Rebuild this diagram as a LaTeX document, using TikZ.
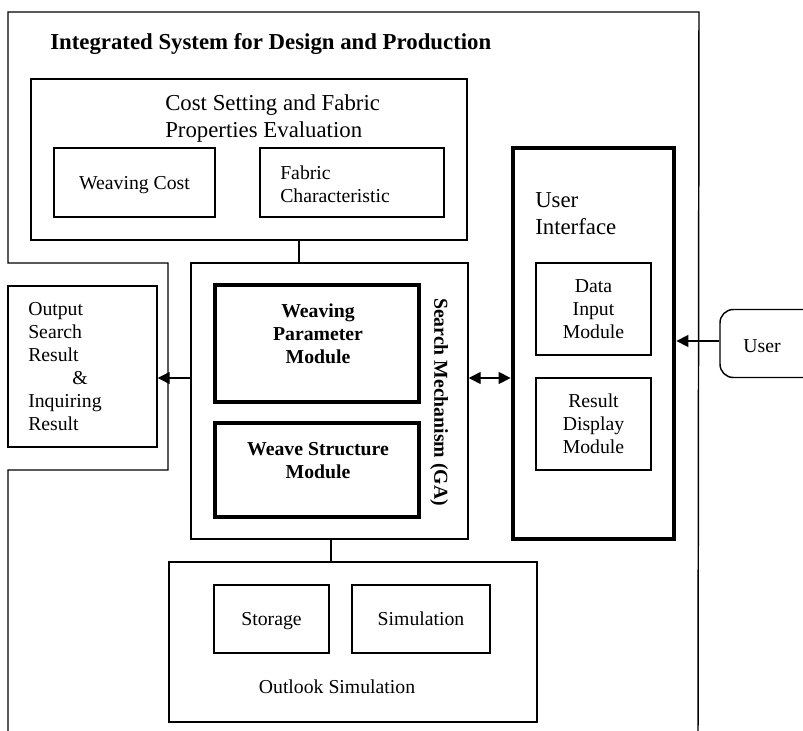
\documentclass[tikz,border=0pt]{standalone}
\usepackage{fontspec}
\setmainfont{Liberation Serif}
\usetikzlibrary{arrows.meta,fit}
\begin{document}
\begin{tikzpicture}[x=0.75pt,y=-0.75pt,
  thinline/.style={line width=1.1pt},
  box/.style={draw,thinline,inner sep=0pt},
  thickbox/.style={draw,line width=3.6pt,inner sep=0pt},
  txt/.style={font=\fontsize{14.8pt}{17.3pt}\selectfont,inner sep=0pt},
  bigtxt/.style={font=\fontsize{17.1pt}{20.3pt}\selectfont,inner sep=0pt},
  boldtxt/.style={font=\fontsize{14.8pt}{17.3pt}\selectfont\bfseries,inner sep=0pt},
  arr/.style={thinline,-{Triangle[length=9pt,width=9pt]}},
  darr/.style={thinline,{Triangle[length=9pt,width=9pt]}-{Triangle[length=9pt,width=9pt]}}]
\useasboundingbox (0,0) rectangle (803,731);
% outer frame
\draw[thinline] (8,731) -- (8,470) -- (168,470) -- (168,263) -- (8,263) -- (8,12) -- (699,12) -- (698,731);
\node[bigtxt,font=\fontsize{17.1pt}{20.3pt}\selectfont\bfseries,anchor=west] (title) at (50,44) {Integrated System for Design and Production};
% cost setting
\node[box,fit={(31,79) (467,240)}] (cost) {};
\node[bigtxt,align=left,anchor=north west] (costtxt) at (165,94) {Cost Setting and Fabric\\Properties Evaluation};
\node[box,fit={(54,148) (215,217)}] (wcost) {};
\node[txt] (wcosttxt) at (134.5,185) {\strut Weaving Cost};
\node[box,fit={(260,148) (444,217)}] (fab) {};
\node[txt,align=left,anchor=west] (fabtxt) at (280,184) {Fabric\\Characteristic};
% search
\node[box,fit={(191,263) (468,539)}] (search) {};
\node[thickbox,fit={(215,285) (419,402)}] (wpm) {};
\node[boldtxt,align=center] (wpmtxt) at (318,334) {Weaving\\Parameter\\Module};
\node[thickbox,fit={(215,423) (419,517)}] (wsm) {};
\node[boldtxt,align=center] (wsmtxt) at (318,461) {Weave Structure\\Module};
\node[boldtxt,rotate=-90] (smtxt) at (439,402) {Search Mechanism (GA)};
% output
\node[box,fit={(8,286) (157,447)}] (out) {};
\node[txt,align=left,anchor=north west] (outtxt) at (28,302) {Output\\Search\\Result\\\hspace*{33pt}\&\\Inquiring\\Result};
% user interface
\node[thickbox,fit={(513,148) (674,539)}] (ui) {};
\node[bigtxt,align=left,anchor=north west] (uitxt) at (535,192) {User\\Interface};
\node[box,fit={(536,263) (651,355)}] (din) {};
\node[txt,align=center] (dintxt) at (din.center) {Data\\Input\\Module};
\node[box,fit={(536,378) (651,470)}] (rdm) {};
\node[txt,align=center] (rdmtxt) at (rdm.center) {Result\\Display\\Module};
% user
\node[draw,thinline,rounded corners=10pt,minimum width=78pt,minimum height=51pt,inner sep=0pt] (user) at (772,343.5) {};
\node[txt] (usertxt) at (762,348) {\strut User};
% outlook
\node[box,fit={(169,562) (537,722)}] (outlook) {};
\node[box,fit={(214,585) (329,653)}] (stor) {};
\node[txt] (stortxt) at (271.5,621) {\strut Storage};
\node[box,fit={(352,585) (490,653)}] (sim) {};
\node[txt] (simtxt) at (421,621) {\strut Simulation};
\node[txt] (outlooktxt) at (337,689) {\strut Outlook Simulation};
% connectors
\coordinate (c1) at (299,0);
\coordinate (c2) at (331,0);
\coordinate (r1) at (0,378);
\coordinate (r2) at (0,341);
\draw[thinline] (cost.south -| c1) -- (search.north -| c1);
\draw[thinline] (search.south -| c2) -- (outlook.north -| c2);
\draw[arr] (search.west |- r1) -- (out.east |- r1);
\draw[darr] (search.east |- r1) -- (ui.west |- r1);
\draw[arr] (user.west |- r2) -- (ui.east |- r2);
\end{tikzpicture}
\end{document}
